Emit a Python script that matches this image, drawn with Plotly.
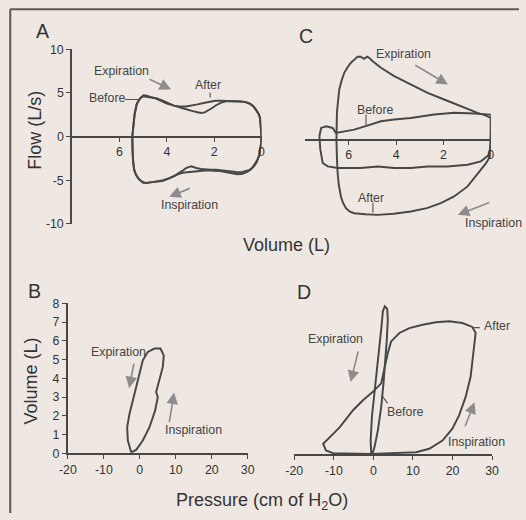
import plotly.graph_objects as go

# ---------------- data ----------------
# Panel A: flow-volume loops (volume in L, flow in L/s)
a_before_vol = [5.46, 5.42, 5.36, 5.28, 5.15, 5.01, 4.85, 4.70, 4.45, 4.20, 4.00, 3.70, 3.33, 3.10,
                2.90, 2.70, 2.55, 2.40, 2.27, 2.10, 1.92, 1.70, 1.50, 1.20, 0.94, 0.70, 0.51, 0.35,
                0.23, 0.12, 0.06, 0.02, 0.00, 0.01, 0.03, 0.08, 0.17, 0.28, 0.38, 0.50, 0.66, 0.85,
                1.08, 1.30, 1.50, 1.70, 1.92, 2.15, 2.34, 2.55, 2.76, 2.88, 2.97, 3.08, 3.19, 3.33,
                3.47, 3.68, 3.89, 4.15, 4.45, 4.70, 4.87, 5.00, 5.08, 5.20, 5.30, 5.37, 5.41, 5.45, 5.46]
a_before_flow = [0.0, 1.2, 2.6, 3.7, 4.3, 4.62, 4.55, 4.50, 4.40, 4.15, 3.90, 3.55, 3.25, 3.05,
                 2.92, 2.80, 2.72, 2.78, 2.95, 3.25, 3.60, 3.90, 4.05, 4.08, 4.06, 3.98, 3.80, 3.50,
                 3.10, 2.60, 2.10, 1.00, 0.00, -0.60, -1.30, -2.00, -2.64, -3.15, -3.52, -3.82, -3.98, -4.08,
                 -4.06, -3.98, -3.90, -3.85, -3.79, -3.80, -3.79, -3.70, -3.60, -3.45, -3.41, -3.50, -3.60, -3.90,
                 -4.18, -4.50, -4.75, -5.00, -5.13, -5.28, -5.33, -5.30, -5.13, -4.85, -4.37, -3.90, -3.22, -1.69, 0.0]
a_after_vol = [5.46, 5.42, 5.36, 5.26, 5.12, 4.98, 4.85, 4.70, 4.45, 4.20, 4.00, 3.70, 3.45, 3.20,
               2.95, 2.70, 2.45, 2.20, 1.95, 1.70, 1.50, 1.20, 0.94, 0.70, 0.51, 0.35, 0.23, 0.12,
               0.06, 0.02, 0.00, 0.01, 0.04, 0.10, 0.20, 0.32, 0.45, 0.60, 0.80, 1.00, 1.25, 1.50,
               1.75, 2.00, 2.25, 2.50, 2.75, 3.00, 3.25, 3.47, 3.70, 3.95, 4.20, 4.45, 4.70, 4.90,
               5.05, 5.18, 5.30, 5.38, 5.43, 5.46]
a_after_flow = [0.0, 1.2, 2.6, 3.8, 4.45, 4.75, 4.70, 4.55, 4.35, 4.05, 3.80, 3.55, 3.45, 3.45,
                3.55, 3.70, 3.85, 4.00, 4.10, 4.12, 4.10, 4.08, 4.06, 3.98, 3.80, 3.50, 3.10, 2.60,
                2.10, 1.00, 0.00, -0.70, -1.40, -2.20, -2.90, -3.40, -3.75, -4.05, -4.25, -4.30, -4.20, -4.05,
                -3.95, -3.90, -3.85, -3.90, -3.95, -4.00, -4.10, -4.25, -4.55, -4.85, -5.10, -5.20, -5.30, -5.30,
                -5.15, -4.85, -4.40, -3.80, -2.80, 0.0]

# Panel C: flow-volume loops
c_before_vol = [7.24, 7.17, 6.96, 6.68, 6.54, 6.19, 5.77, 5.22, 4.64, 4.08, 3.38, 2.39, 1.55, 0.70,
                0.00, 0.00, 0.07, 0.42, 0.98, 1.83, 2.67, 3.38, 4.08, 4.78, 5.49, 6.47, 6.89, 7.10,
                7.20, 7.24]
c_before_flow = [0.38, 1.34, 1.53, 1.34, 0.77, 0.96, 1.15, 1.61, 2.11, 2.30, 2.49, 2.87, 3.07, 2.99,
                 2.87, -0.38, -1.72, -2.49, -2.87, -3.07, -3.07, -3.26, -3.26, -3.07, -3.26, -3.26, -3.07, -2.68,
                 -1.15, 0.38]
c_after_vol = [6.52, 6.50, 6.45, 6.40, 6.30, 6.19, 6.05, 5.91, 5.75, 5.63, 5.49, 5.36, 5.22, 5.10,
               5.00, 4.64, 4.08, 3.38, 2.67, 1.97, 1.27, 0.56, 0.20, 0.00, 0.00, 0.00, 0.03, 0.20,
               0.42, 0.70, 0.98, 1.55, 2.11, 2.70, 3.38, 4.10, 4.78, 5.30, 5.77, 5.95, 6.12, 6.25,
               6.33, 6.42, 6.47, 6.50, 6.52]
c_after_flow = [0.0, 3.07, 4.50, 5.75, 6.80, 7.66, 8.30, 8.81, 9.20, 9.50, 9.50, 9.27, 9.50, 9.30,
                9.00, 8.24, 7.28, 6.32, 5.36, 4.60, 3.83, 3.07, 2.75, 2.49, 1.00, 0.00, -1.92, -2.70,
                -3.45, -4.40, -5.36, -6.51, -7.28, -7.85, -8.24, -8.50, -8.62, -8.55, -8.43, -8.25, -7.85, -7.20,
                -6.51, -5.20, -3.83, -2.00, 0.0]

# Panel B: pressure-volume loop (pressure in cm H2O, volume in L)
b_pres = [-2.41, -3.33, -3.52, -2.87, -1.94, -1.02, -0.09, 0.83, 2.22, 4.07, 5.74, 6.67, 6.39,
          5.46, 4.54, 5.00, 4.26, 2.69, 0.83, -1.02, -2.41]
b_vol = [0.05, 0.68, 1.39, 2.11, 2.82, 3.54, 4.25, 4.96, 5.41, 5.59, 5.59, 5.23, 4.61,
         3.89, 3.27, 3.00, 2.29, 1.39, 0.68, 0.18, 0.05]

# Panel D: pressure-volume loops
d_before_pres = [-0.55, -0.70, -0.38, 0.29, 0.88, 1.55, 2.05, 2.39, 2.89, 3.48, 3.64, 3.39, 2.98,
                 2.55, 1.97, 1.13, 0.29, -0.29, -0.55]
d_before_vol = [0.04, 0.71, 1.96, 3.21, 4.46, 5.71, 6.78, 7.58, 7.85, 7.71, 7.14, 6.07, 4.82,
                3.75, 2.50, 1.25, 0.36, 0.00, 0.04]
d_after_pres = [10.76, 14.12, 17.46, 19.97, 21.66, 23.32, 24.57, 25.18, 25.68, 25.84, 25.00, 22.49,
                19.14, 15.78, 12.44, 9.09, 6.58, 4.48, 3.64, 2.81, 1.97, -0.13, -2.64, -5.15,
                -8.49, -11.00, -12.69, -12.00, -10.18, -0.50, 10.76]
d_after_vol = [0.09, 0.27, 0.71, 1.34, 2.05, 3.03, 4.10, 5.17, 6.07, 6.43, 6.75, 6.96,
               7.05, 7.00, 6.87, 6.69, 6.43, 5.98, 5.36, 4.46, 3.75, 3.30, 2.85, 2.32,
               1.42, 0.89, 0.54, 0.18, 0.04, 0.00, 0.09]

vol_ticks = [6, 4, 2, 0]
flow_ticks = [-10, -5, 0, 5, 10]
pres_ticks = [-20, -10, 0, 10, 20, 30]
pv_vol_ticks = [0, 1, 2, 3, 4, 5, 6, 7, 8]

# ---------------- style ----------------
# Layout positions below are written in window pixels.  The page body keeps
# an 8 px margin, and the whole page (figure + margins) is shown in the
# 526 x 520 window, so window px = (figure px + 8) * SX (or SY).
W, H = 526, 520
BODY = 8
SX = W / (W + 2 * BODY)
SY = H / (H + 2 * BODY)
BG = "#efe8e2"
INK = "#474747"
TXT = "#333333"
ARROW = "#8c8c8c"
FONT = "Liberation Sans, Arial, sans-serif"


def fx(px):
    return (px / SX - BODY) / W


def fy(py):
    return 1 - (py / SY - BODY) / H


def fs(size):
    # font / stroke size in figure units for a given on-screen size
    return size / SX


def tick_text(vals):
    # plain hyphen-minus for negative numbers
    return [str(v) for v in vals]


fig = go.Figure()


def loop(x, y, xa, ya):
    fig.add_trace(go.Scatter(x=x, y=y, mode="lines", xaxis=xa, yaxis=ya,
                             line=dict(color=INK, width=fs(1.9)), hoverinfo="skip",
                             showlegend=False))


loop(a_before_vol, a_before_flow, "x", "y")
loop(a_after_vol, a_after_flow, "x", "y")
loop(c_before_vol, c_before_flow, "x2", "y2")
loop(c_after_vol, c_after_flow, "x2", "y2")
loop(b_pres, b_vol, "x3", "y3")
loop(d_before_pres, d_before_vol, "x4", "y4")
loop(d_after_pres, d_after_vol, "x4", "y4")

axis_common = dict(showgrid=False, zeroline=False, showline=True, linecolor=INK,
                   linewidth=fs(1.6), ticks="outside", ticklen=fs(4), tickwidth=fs(1.4),
                   tickcolor=INK, tickfont=dict(family=FONT, size=fs(12), color=TXT),
                   fixedrange=True)

fig.update_layout(
    width=W, height=H, margin=dict(l=0, r=0, t=0, b=0),
    paper_bgcolor=BG, plot_bgcolor="rgba(0,0,0,0)",
    # Panel A
    xaxis=dict(domain=[fx(71), fx(260.5)], range=[8.0, 0], anchor="free",
               position=fy(137), tickvals=vol_ticks, ticktext=tick_text(vol_ticks),
               **axis_common),
    yaxis=dict(domain=[fy(224), fy(50)], range=[-10, 10], anchor="x",
               tickvals=flow_ticks, ticktext=tick_text(flow_ticks), **axis_common),
    # Panel C
    xaxis2=dict(domain=[fx(304), fx(490)], range=[7.85, 0], anchor="free",
                position=fy(140), tickvals=vol_ticks, ticktext=tick_text(vol_ticks),
                **axis_common),
    yaxis2=dict(domain=[fy(227), fy(53)], range=[-10, 10], anchor="x2", visible=False),
    # Panel B
    xaxis3=dict(domain=[fx(66.7), fx(246.7)], range=[-20, 30], anchor="y3",
                tickvals=pres_ticks, ticktext=tick_text(pres_ticks), **axis_common),
    yaxis3=dict(domain=[fy(452.7), fy(303.3)], range=[0, 8], anchor="x3",
                tickvals=pv_vol_ticks, ticktext=tick_text(pv_vol_ticks), **axis_common),
    # Panel D
    xaxis4=dict(domain=[fx(293.3), fx(491.3)], range=[-20, 30], anchor="y4",
                tickvals=pres_ticks, ticktext=tick_text(pres_ticks), **axis_common),
    yaxis4=dict(domain=[fy(453.3), fy(303.3)], range=[0, 8], anchor="x4", visible=False),
)

ann = []


def label(text, x, y, xref, yref, size=12, color="#444444", angle=0):
    ann.append(dict(text=text, x=x, y=y, xref=xref, yref=yref, showarrow=False,
                    textangle=angle, font=dict(family=FONT, size=fs(size), color=color),
                    xanchor="center", yanchor="middle"))


def arrow(x0, y0, x1, y1, xr, yr):
    ann.append(dict(text="", x=x1, y=y1, ax=x0, ay=y0, xref=xr, yref=yr,
                    axref=xr, ayref=yr, showarrow=True, arrowhead=2, arrowsize=1.4,
                    arrowwidth=fs(1.6), arrowcolor=ARROW))


# panel letters
label("A", fx(42), fy(32), "paper", "paper", size=19, color=TXT)
label("C", fx(305), fy(37), "paper", "paper", size=19, color=TXT)
label("B", fx(33), fy(291), "paper", "paper", size=19, color=TXT)
label("D", fx(303), fy(292), "paper", "paper", size=19, color=TXT)

# axis titles
label("Flow (L/s)", fx(33), fy(131), "paper", "paper", size=17.5, color=TXT, angle=-90)
label("Volume (L)", fx(286), fy(245), "paper", "paper", size=17.5, color=TXT)
label("Volume (L)", fx(30), fy(381), "paper", "paper", size=17.5, color=TXT, angle=-90)
label("Pressure (cm of H<sub>2</sub>O)", fx(261), fy(501), "paper", "paper", size=17.5, color=TXT)

# panel A notes
label("Expiration", 5.93, 7.47, "x", "y")
arrow(4.79, 6.67, 3.82, 5.40, "x", "y")
label("Before", 6.52, 4.37, "x", "y")
label("After", 2.26, 5.86, "x", "y")
label("Inspiration", 3.06, -7.82, "x", "y")
arrow(2.97, -5.86, 3.90, -6.90, "x", "y")

# panel C notes
label("Expiration", 3.67, 9.77, "x2", "y2")
arrow(3.25, 8.62, 1.81, 6.32, "x2", "y2")
label("Before", 4.85, 3.45, "x2", "y2")
label("After", 5.06, -6.67, "x2", "y2")
label("Inspiration", fx(493), fy(223), "paper", "paper")
arrow(0.0, -7.13, 1.39, -8.62, "x2", "y2")

# panel B notes
label("Expiration", -6.03, 5.39, "x3", "y3")
arrow(-1.58, 4.86, -2.97, 3.47, "x3", "y3")
label("Inspiration", 14.8, 1.22, "x3", "y3")
arrow(8.14, 1.59, 9.53, 3.25, "x3", "y3")

# panel D notes
label("Expiration", -9.55, 6.12, "x4", "y4")
arrow(-3.74, 5.53, -5.76, 3.82, "x4", "y4")
label("Before", 8.13, 2.21, "x4", "y4")
label("After", fx(496), fy(326), "paper", "paper")
label("Inspiration", 26.06, 0.61, "x4", "y4")
arrow(23.03, 1.39, 25.56, 2.75, "x4", "y4")

fig.update_layout(annotations=ann)

# leader lines from labels to curves, plus the panel frame
lead = dict(color="#555555", width=fs(1.1))
frame = dict(color="#5a5a5a", width=fs(2))
shapes = [
    dict(type="line", xref="x", yref="y", x0=5.76, y0=4.25, x1=5.17, y1=4.25, line=lead),
    dict(type="line", xref="x", yref="y", x0=2.17, y0=5.06, x1=2.17, y1=4.48, line=lead),
    dict(type="line", xref="x2", yref="y2", x0=5.27, y0=2.87, x1=5.27, y1=1.49, line=lead),
    dict(type="line", xref="x2", yref="y2", x0=4.98, y0=-7.24, x1=4.98, y1=-8.39, line=lead),
    dict(type="line", xref="x4", yref="y4", x0=2.07, y0=3.12, x1=3.59, y1=2.69, line=lead),
    dict(type="line", xref="x4", yref="y4", x0=25.1, y0=6.71, x1=26.9, y1=6.71, line=lead),
    dict(type="line", xref="paper", yref="paper", x0=fx(9), y0=fy(10), x1=1, y1=fy(10),
         line=frame),
    dict(type="line", xref="paper", yref="paper", x0=fx(9), y0=fy(10), x1=fx(9), y1=0,
         line=frame),
]
fig.update_layout(shapes=shapes)

# page background matches the figure so the body margin blends in
page_css = ("document.documentElement.style.background='%s';"
            "document.body.style.background='%s';" % (BG, BG))
fig.write_html("out.html", post_script=page_css)
